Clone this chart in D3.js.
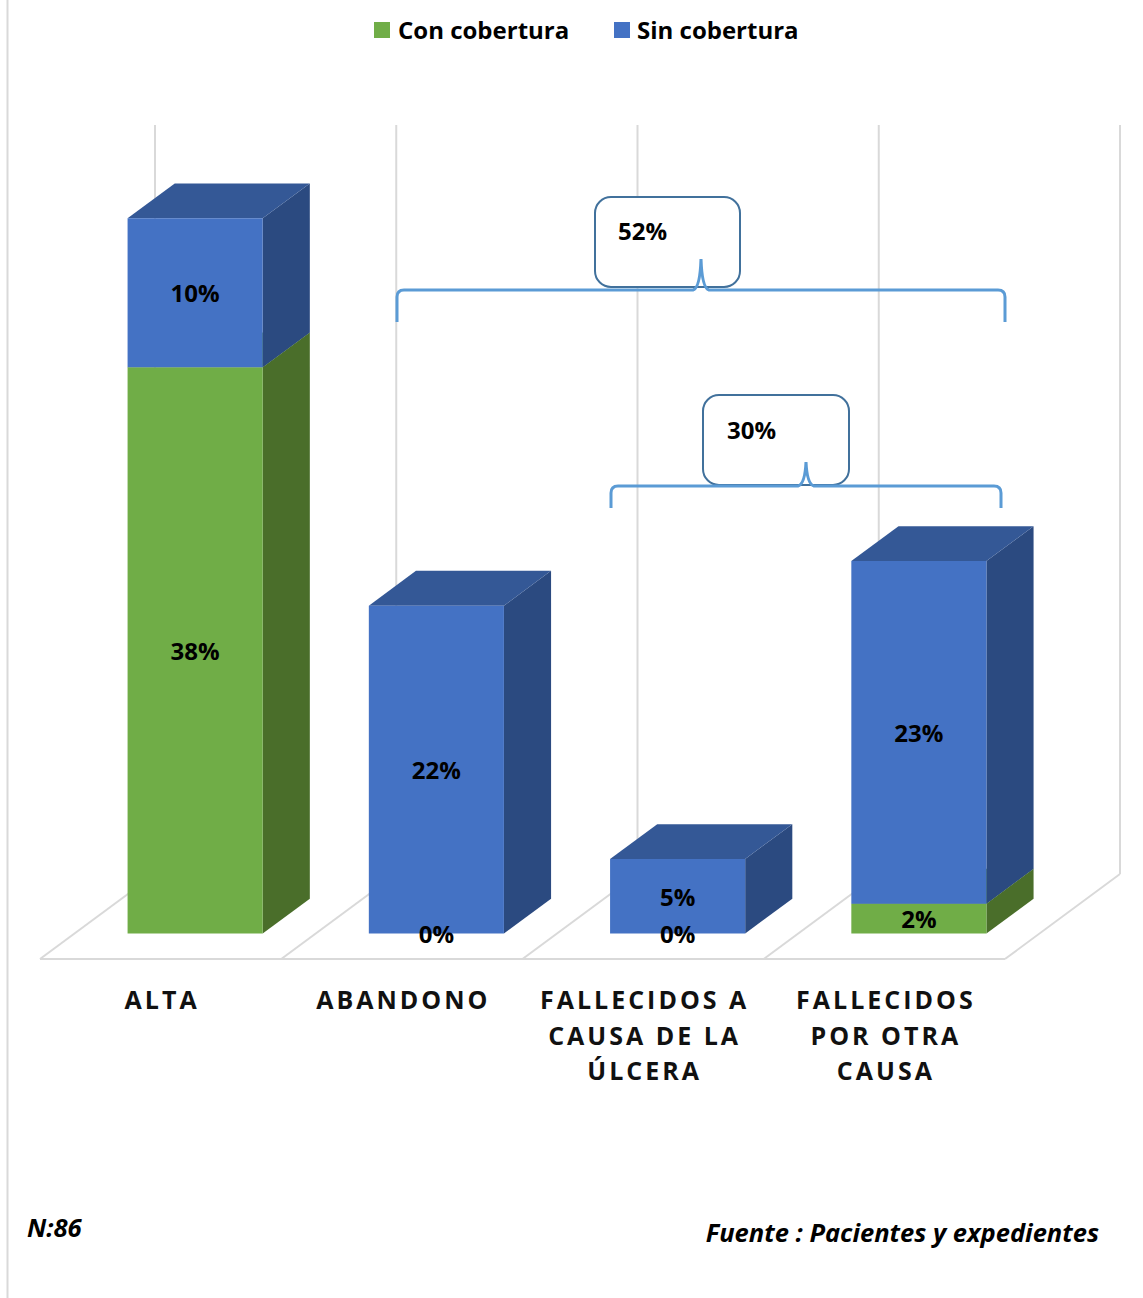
<!DOCTYPE html>
<html>
<head>
<meta charset="utf-8">
<script src="https://cdn.jsdelivr.net/npm/d3@7"></script>
<style>
  html, body { margin: 0; padding: 0; background: #fff; }
  svg { display: block; }
  text { font-family: "Open Sans", "Noto Sans", sans-serif; }
</style>
</head>
<body>
<svg id="chart" width="1143" height="1298"></svg>
<script>
// Outcome categories (multi-line axis labels)
const categories = ["ALTA", "ABANDONO", "FALLECIDOS A CAUSA DE LA ÚLCERA", "FALLECIDOS POR OTRA CAUSA"];
const categoryLines = [["ALTA"], ["ABANDONO"], ["FALLECIDOS A", "CAUSA DE LA", "ÚLCERA"], ["FALLECIDOS", "POR OTRA", "CAUSA"]];

// Percentages per series (stacked bottom → top)
const seriesNames = ["Con cobertura", "Sin cobertura"];
const conCobertura = [38, 0, 0, 2];
const sinCobertura = [10, 22, 5, 23];

// Grouped totals shown with braces
const groupTotals = [
  { label: "52%", from: 1, to: 3 },
  { label: "30%", from: 2, to: 3 }
];

const svg = d3.select("#chart");

// Palette: front / side / top faces
const faces = {
  "Con cobertura": { front: "#70AD47", side: "#4A6E2A", top: "#5E913C" },
  "Sin cobertura": { front: "#4472C4", side: "#2B4A80", top: "#345896" }
};

// Floor plane and value scale
const floorY = 959;
const x = d3.scaleBand().domain(categories).range([40, 1005]).paddingInner(0).paddingOuter(0);
const y = d3.scaleLinear().domain([0, 50]).range([floorY, floorY - 745]);
const depth = { dx: 115, dy: -85 };        // full depth of the floor
const barFront = 0.3, barBack = 0.71;     // bar depth inside floor
const barFrac = 0.56;                     // bar width relative to band

const proj = (px, py, d) => [px + depth.dx * d, py + depth.dy * d];

const grid = "#d9d9d9";

// Frame line on the left
svg.append("line").attr("x1", 7.5).attr("x2", 7.5).attr("y1", 0).attr("y2", 1298)
  .attr("stroke", grid).attr("stroke-width", 2);

// Back wall gridlines at category boundaries
const edges = categories.map(c => x(c)).concat([x.range()[1]]);
const wallTop = y(50);
svg.append("g").selectAll("line").data(edges).join("line")
  .attr("x1", d => proj(d, 0, 1)[0]).attr("x2", d => proj(d, 0, 1)[0])
  .attr("y1", proj(0, wallTop, 1)[1] - 4).attr("y2", proj(0, floorY, 1)[1])
  .attr("stroke", grid).attr("stroke-width", 2);

// Floor: front edge and depth lines
svg.append("line").attr("x1", edges[0]).attr("x2", edges[edges.length - 1])
  .attr("y1", floorY).attr("y2", floorY).attr("stroke", grid).attr("stroke-width", 2);
svg.append("g").selectAll("line").data(edges).join("line")
  .attr("x1", d => d).attr("y1", floorY)
  .attr("x2", d => proj(d, floorY, 1)[0]).attr("y2", d => proj(d, floorY, 1)[1])
  .attr("stroke", grid).attr("stroke-width", 2);

// Stacked 3D columns
const stackData = categories.map((c, i) => ({ cat: c, "Con cobertura": conCobertura[i], "Sin cobertura": sinCobertura[i] }));
const stacked = d3.stack().keys(seriesNames)(stackData);

const bars = svg.append("g");
const poly = pts => "M" + pts.map(p => p.join(",")).join("L") + "Z";

categories.forEach((c, i) => {
  const bw = x.bandwidth() * barFrac;
  const cx = x(c) + x.bandwidth() / 2;
  const xl = cx - bw / 2, xr = cx + bw / 2;
  stacked.forEach(layer => {
    const [v0, v1] = layer[i];
    if (v1 - v0 <= 0) return;
    const col = faces[layer.key];
    const yb = y(v0), yt = y(v1);
    const fbl = proj(xl, yb, barFront), fbr = proj(xr, yb, barFront);
    const ftl = proj(xl, yt, barFront), ftr = proj(xr, yt, barFront);
    const bbr = proj(xr, yb, barBack), btr = proj(xr, yt, barBack), btl = proj(xl, yt, barBack);
    bars.append("path").attr("d", poly([fbr, bbr, btr, ftr])).attr("fill", col.side);
    bars.append("path").attr("d", poly([ftl, ftr, btr, btl])).attr("fill", col.top);
    bars.append("path").attr("d", poly([fbl, fbr, ftr, ftl])).attr("fill", col.front);
  });
});

// Value labels centred on each segment's front face
const labels = svg.append("g");
categories.forEach((c, i) => {
  const cx = x(c) + x.bandwidth() / 2 + depth.dx * barFront;
  stacked.forEach(layer => {
    const [v0, v1] = layer[i];
    const yc = (y(v0) + y(v1)) / 2 + depth.dy * barFront;
    labels.append("text")
      .attr("x", cx).attr("y", yc)
      .attr("text-anchor", "middle").attr("dominant-baseline", "central")
      .attr("font-size", 24).attr("font-weight", 700).attr("fill", "#000")
      .text(v1 - v0 + "%");
  });
});

// Category labels
const catG = svg.append("g");
const catSpacing = 3;
categories.forEach((c, i) => {
  const cx = x(c) + x.bandwidth() / 2;
  categoryLines[i].forEach((line, k) => {
    catG.append("text")
      .attr("x", cx + catSpacing / 2).attr("y", 999 + k * 35.5)
      .attr("text-anchor", "middle").attr("dominant-baseline", "central")
      .attr("font-size", 25).attr("font-weight", 700).attr("letter-spacing", catSpacing)
      .attr("fill", "#111").text(line);
  });
});

// Braces with callout boxes for grouped totals
const braceSpecs = [
  { y0: 290, h: 32, tip: 31, box: [595, 197, 145, 90], x1: 397, x2: 1005, tx: 618, ty: 230 },
  { y0: 486, h: 22, tip: 24, box: [703, 395, 146, 90], x1: 611, x2: 1001, tx: 727, ty: 429 }
];
groupTotals.forEach((g, k) => {
  const s = braceSpecs[k];
  const xm = (s.x1 + s.x2) / 2;
  svg.append("rect")
    .attr("x", s.box[0]).attr("y", s.box[1]).attr("width", s.box[2]).attr("height", s.box[3])
    .attr("rx", 16).attr("fill", "#fff").attr("stroke", "#41719C").attr("stroke-width", 2);
  const r = 7;
  const p = d3.path();
  p.moveTo(s.x1, s.y0 + s.h);
  p.lineTo(s.x1, s.y0 + r);
  p.quadraticCurveTo(s.x1, s.y0, s.x1 + r, s.y0);
  p.lineTo(xm - 8, s.y0);
  p.quadraticCurveTo(xm - 1, s.y0 - 2, xm, s.y0 - s.tip);
  p.quadraticCurveTo(xm + 1, s.y0 - 2, xm + 8, s.y0);
  p.lineTo(s.x2 - r, s.y0);
  p.quadraticCurveTo(s.x2, s.y0, s.x2, s.y0 + r);
  p.lineTo(s.x2, s.y0 + s.h);
  svg.append("path").attr("d", p.toString()).attr("fill", "none")
    .attr("stroke", "#5B9BD5").attr("stroke-width", 3);
  svg.append("text").attr("x", s.tx).attr("y", s.ty)
    .attr("dominant-baseline", "central")
    .attr("font-size", 24).attr("font-weight", 700).attr("fill", "#000").text(g.label);
});

// Legend
const legendItems = [
  { name: seriesNames[0], sx: 374, tx: 398 },
  { name: seriesNames[1], sx: 614, tx: 637 }
];
legendItems.forEach(d => {
  svg.append("rect").attr("x", d.sx).attr("y", 22).attr("width", 16).attr("height", 16)
    .attr("fill", faces[d.name].front);
  svg.append("text").attr("x", d.tx).attr("y", 29)
    .attr("dominant-baseline", "central")
    .attr("font-size", 24).attr("font-weight", 700).attr("fill", "#000").text(d.name);
});

// Footer notes
svg.append("text").attr("x", 27).attr("y", 1227).attr("dominant-baseline", "central")
  .attr("font-size", 25.5).attr("font-weight", 700).attr("font-style", "italic").text("N:86");
svg.append("text").attr("x", 1099).attr("y", 1232).attr("dominant-baseline", "central")
  .attr("text-anchor", "end")
  .attr("font-size", 25.5).attr("font-weight", 700).attr("font-style", "italic")
  .text("Fuente : Pacientes y expedientes");
</script>
</body>
</html>
